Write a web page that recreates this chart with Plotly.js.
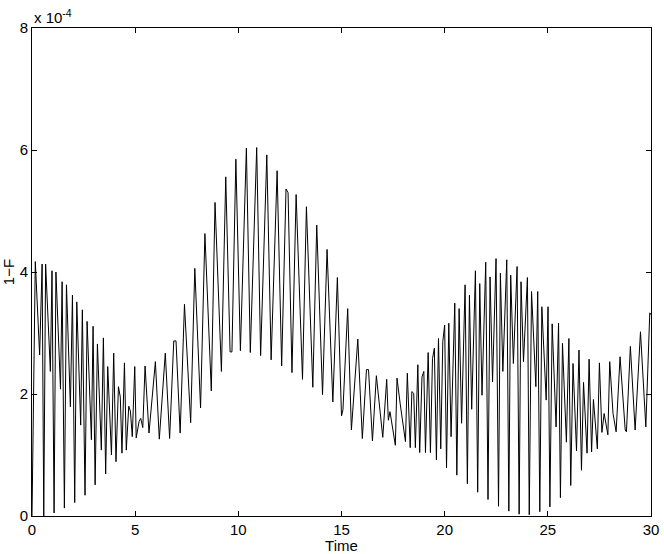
<!DOCTYPE html>
<html>
<head>
<meta charset="utf-8">
<script src="https://cdn.plot.ly/plotly-3.0.1.min.js"></script>
<style>
  html, body { margin: 0; padding: 0; background: #fff; }
  #myGraph { width: 664px; height: 554px; }
</style>
</head>
<body>
<div id="myGraph"></div>
<script>
// time values of the line's corners
const timeVals = [
  0.00, 0.16, 0.37, 0.49, 0.57, 0.66, 0.89, 0.97, 1.07, 1.16,
  1.38, 1.46, 1.57, 1.67, 1.86, 1.96, 2.07, 2.17, 2.36, 2.44,
  2.57, 2.67, 2.88, 2.96, 3.06, 3.17, 3.36, 3.46, 3.57, 3.67,
  3.85, 3.96, 4.07, 4.19, 4.28, 4.36, 4.48, 4.57, 4.69, 4.77,
  4.86, 4.98, 5.05, 5.19, 5.27, 5.37, 5.48, 5.67, 5.98, 6.17,
  6.46, 6.67, 6.87, 6.98, 7.18, 7.39, 7.69, 7.89, 8.17, 8.38,
  8.69, 8.87, 9.18, 9.39, 9.60, 9.69, 9.88, 10.10, 10.39, 10.58,
  10.89, 11.08, 11.38, 11.59, 11.88, 12.10, 12.31, 12.41, 12.60, 12.80,
  13.11, 13.30, 13.61, 13.80, 14.08, 14.30, 14.58, 14.80, 15.00, 15.07,
  15.30, 15.48, 15.79, 16.01, 16.21, 16.31, 16.50, 16.69, 17.00, 17.19,
  17.27, 17.35, 17.61, 17.69, 17.84, 18.10, 18.19, 18.33, 18.41, 18.50,
  18.58, 18.70, 18.79, 18.90, 18.99, 19.07, 19.20, 19.31, 19.41, 19.50,
  19.60, 19.70, 19.81, 19.91, 20.00, 20.09, 20.20, 20.31, 20.49, 20.59,
  20.70, 20.82, 20.99, 21.10, 21.20, 21.31, 21.49, 21.60, 21.70, 21.81,
  21.99, 22.10, 22.20, 22.32, 22.49, 22.61, 22.70, 22.82, 23.01, 23.11,
  23.20, 23.33, 23.51, 23.61, 23.70, 23.82, 24.01, 24.10, 24.21, 24.42,
  24.51, 24.61, 24.71, 24.92, 25.01, 25.10, 25.21, 25.40, 25.52, 25.61,
  25.71, 25.90, 26.02, 26.11, 26.22, 26.39, 26.51, 26.63, 26.73, 26.90,
  27.00, 27.12, 27.21, 27.40, 27.50, 27.62, 27.73, 27.91, 28.00, 28.16,
  28.31, 28.50, 28.75, 28.81, 29.00, 29.23, 29.49, 29.75, 29.94, 30.00
];
// 1-F at those times, in units of 1e-4
const oneMinusF = [
  0.00, 4.17, 2.64, 4.13, 0.00, 4.13, 2.37, 4.02, 0.05, 4.00,
  2.08, 3.84, 0.13, 3.79, 1.79, 3.62, 0.22, 3.51, 1.49, 3.38,
  0.34, 3.19, 1.25, 3.11, 0.51, 2.82, 1.08, 2.92, 0.69, 2.45,
  1.00, 2.67, 0.89, 2.12, 1.95, 1.03, 2.51, 1.08, 1.80, 1.72,
  1.30, 2.45, 1.28, 1.55, 1.60, 1.45, 2.46, 1.36, 2.53, 1.26,
  2.67, 1.27, 2.87, 2.87, 1.36, 3.47, 1.53, 4.06, 1.77, 4.63,
  2.05, 5.14, 2.37, 5.56, 2.69, 2.69, 5.85, 2.71, 6.03, 2.68,
  6.04, 2.63, 5.92, 2.56, 5.66, 2.46, 5.36, 5.30, 2.35, 5.27,
  2.24, 5.07, 2.11, 4.77, 1.99, 4.37, 1.87, 3.91, 1.64, 1.74,
  3.40, 1.41, 2.90, 1.27, 2.40, 2.40, 1.23, 2.30, 1.29, 2.24,
  1.57, 1.71, 1.16, 2.26, 1.85, 1.22, 2.34, 1.12, 2.04, 2.01,
  1.12, 2.48, 1.04, 2.28, 2.37, 1.04, 2.68, 1.04, 2.58, 2.75,
  0.92, 2.91, 1.10, 2.86, 3.13, 0.79, 3.16, 1.30, 3.49, 0.67,
  3.40, 1.52, 3.79, 0.53, 3.62, 1.75, 4.02, 0.39, 3.81, 1.98,
  4.16, 0.27, 3.92, 2.20, 4.22, 0.16, 3.98, 2.37, 4.20, 0.08,
  3.95, 2.50, 4.09, 0.03, 3.84, 2.53, 3.91, 0.02, 3.68, 2.12,
  3.68, 0.07, 3.43, 1.90, 3.43, 0.15, 3.15, 1.46, 3.16, 0.30,
  2.83, 1.21, 2.91, 0.50, 2.50, 1.07, 2.72, 0.75, 2.19, 1.03,
  2.57, 1.05, 1.91, 1.10, 2.51, 1.37, 1.68, 1.33, 2.53, 1.68,
  1.38, 2.61, 1.41, 1.38, 2.78, 1.41, 3.02, 1.46, 3.33, 3.30
];
const xTicks = [0, 5, 10, 15, 20, 25, 30];
const yTicks = [0, 2, 4, 6, 8];

const tickFont = { family: "Liberation Sans, Arial, sans-serif", size: 15, color: "#000" };

var data = [{
  x: timeVals,
  y: oneMinusF,
  type: "scatter",
  mode: "lines",
  line: { color: "#000", width: 1 },
  hoverinfo: "skip"
}];

var layout = {
  width: 664,
  height: 554,
  margin: { l: 32, r: 13, t: 28, b: 38 },
  paper_bgcolor: "#fff",
  plot_bgcolor: "#fff",
  showlegend: false,
  font: tickFont,
  xaxis: {
    range: [0, 30],
    tickvals: xTicks,
    ticks: "inside",
    ticklen: 5,
    tickcolor: "#000",
    showline: true,
    linecolor: "#000",
    linewidth: 1,
    mirror: "ticks",
    showgrid: false,
    zeroline: false,
    tickfont: tickFont,
    title: { text: "Time", font: tickFont, standoff: 0 }
  },
  yaxis: {
    range: [0, 8],
    tickvals: yTicks,
    ticks: "inside",
    ticklen: 5,
    tickcolor: "#000",
    showline: true,
    linecolor: "#000",
    linewidth: 1,
    mirror: "ticks",
    showgrid: false,
    zeroline: false,
    tickfont: tickFont,
    title: { text: "1\u2212F", font: tickFont, standoff: 2 }
  },
  annotations: [{
    xref: "paper", yref: "paper",
    x: 0, y: 1,
    xanchor: "left", yanchor: "bottom",
    showarrow: false,
    text: "x 10<sup>-4</sup>",
    font: tickFont
  }]
};

Plotly.newPlot("myGraph", data, layout, { staticPlot: true });
</script>
</body>
</html>
